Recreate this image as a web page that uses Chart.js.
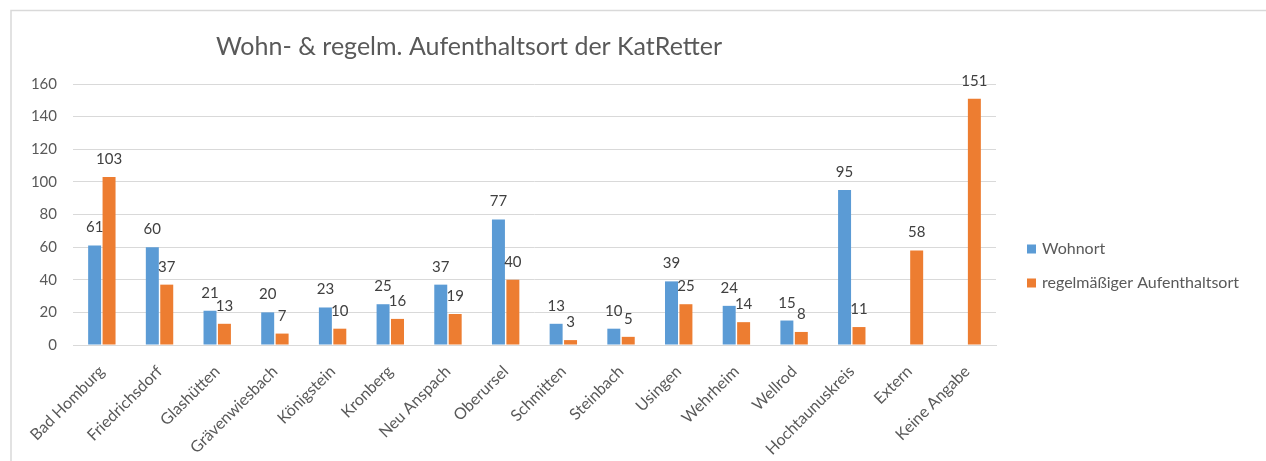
<!DOCTYPE html>
<html>
<head>
<meta charset="utf-8">
<script src="https://cdn.jsdelivr.net/npm/chart.js@4"></script>
<style>
  html, body { margin: 0; padding: 0; background: #ffffff; }
  #wrap { width: 1266px; height: 461px; }
</style>
</head>
<body>
<div id="wrap"><canvas id="bar_chart" width="1266" height="461"></canvas></div>
<script>
const orte = ['Bad Homburg', 'Friedrichsdorf', 'Glashütten', 'Grävenwiesbach', 'Königstein', 'Kronberg',
  'Neu Anspach', 'Oberursel', 'Schmitten', 'Steinbach', 'Usingen', 'Wehrheim', 'Wellrod',
  'Hochtaunuskreis', 'Extern', 'Keine Angabe'];
const wohnort = [61, 60, 21, 20, 23, 25, 37, 77, 13, 10, 39, 24, 15, 95, null, null];
const aufenthalt = [103, 37, 13, 7, 10, 16, 19, 40, 3, 5, 25, 14, 8, 11, 58, 151];
const yTicks = [0, 20, 40, 60, 80, 100, 120, 140, 160];

const chartTitle = 'Wohn- & regelm. Aufenthaltsort der KatRetter';
const FONT = 'Lato, "Open Sans", sans-serif';

// frame, title and legend like the office chart
const decorations = {
  id: 'decorations',
  beforeDraw(chart) {
    const { ctx } = chart;
    ctx.save();
    ctx.fillStyle = '#ffffff';
    ctx.fillRect(0, 0, chart.width, chart.height);
    ctx.strokeStyle = '#d9d9d9';
    ctx.lineWidth = 1.5;
    ctx.strokeRect(11, 10.5, 1300, 500);
    ctx.restore();
  },
  afterDraw(chart) {
    const { ctx } = chart;
    ctx.save();
    ctx.font = '25px ' + FONT;
    ctx.fillStyle = '#595959';
    ctx.textAlign = 'center';
    ctx.textBaseline = 'middle';
    ctx.fillText(chartTitle, 469, 47);

    ctx.font = '16px ' + FONT;
    ctx.textAlign = 'left';
    chart.data.datasets.forEach((ds, i) => {
      const y = 249 + i * 34;
      ctx.fillStyle = ds.backgroundColor;
      ctx.fillRect(1027, y - 4.5, 9, 9);
      ctx.fillStyle = '#595959';
      ctx.fillText(ds.label, 1042, y);
    });
    ctx.restore();
  }
};

// value labels above the bars
const valueLabels = {
  id: 'valueLabels',
  afterDatasetsDraw(chart) {
    const { ctx } = chart;
    ctx.save();
    ctx.font = '15px ' + FONT;
    ctx.fillStyle = '#404040';
    ctx.textAlign = 'center';
    ctx.textBaseline = 'alphabetic';
    chart.data.datasets.forEach((ds, i) => {
      chart.getDatasetMeta(i).data.forEach((bar, j) => {
        const v = ds.data[j];
        if (v === null || v === undefined) return;
        ctx.fillText(String(v), bar.x, bar.y - 13);
      });
    });
    ctx.restore();
  }
};

const bar_data = {
  labels: orte,
  datasets: [
    {
      label: 'Wohnort',
      data: wohnort,
      backgroundColor: '#5b9bd5'
    },
    {
      label: 'regelmäßiger Aufenthaltsort',
      data: aufenthalt,
      backgroundColor: '#ed7d31'
    }
  ]
};

const bar_config = {
  type: 'bar',
  data: bar_data,
  options: {
    responsive: false,
    animation: false,
    layout: {
      padding: { top: 84, right: 270, left: 0, bottom: 0 }
    },
    categoryPercentage: 0.5,
    barPercentage: 0.9,
    plugins: {
      legend: { display: false },
      tooltip: { enabled: false },
      title: { display: false }
    },
    scales: {
      x: {
        grid: { display: false, drawTicks: false },
        border: { color: '#d9d9d9', width: 1 },
        ticks: {
          color: '#595959',
          font: { family: FONT, size: 16 },
          minRotation: 45,
          maxRotation: 45,
          autoSkip: false,
          padding: 17
        },
        afterFit(scale) { scale.height = 116; }
      },
      y: {
        min: 0,
        max: 160,
        afterBuildTicks(scale) { scale.ticks = yTicks.map(v => ({ value: v })); },
        grid: { color: '#d9d9d9', drawTicks: false },
        border: { display: false },
        ticks: {
          color: '#595959',
          font: { family: FONT, size: 15 },
          padding: 16
        },
        afterFit(scale) { scale.width = 73; }
      }
    }
  },
  plugins: [decorations, valueLabels]
};

const bar_chart = new Chart(document.getElementById('bar_chart'), bar_config);
</script>
</body>
</html>
